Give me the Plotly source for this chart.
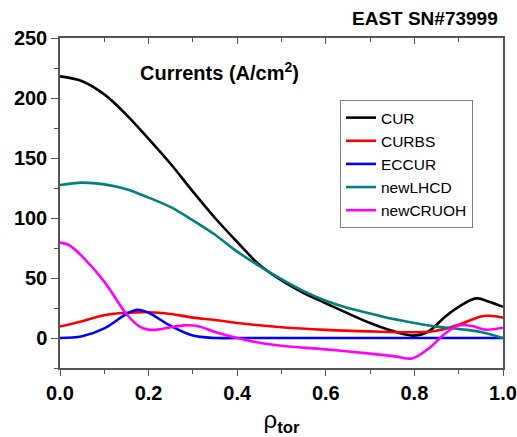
import plotly.graph_objects as go

# Radial profiles of current density components
rho_cur = [0.0, 0.05, 0.1, 0.15, 0.2, 0.25, 0.3, 0.35, 0.4, 0.45, 0.5, 0.55, 0.6, 0.65, 0.7, 0.75, 0.8, 0.83, 0.87, 0.9, 0.94, 0.97, 1.0]
cur = [218, 214, 203, 186, 166, 145, 122, 100, 80, 61, 48, 37.5, 29, 20.5, 12.5, 6, 2, 5, 18, 26, 33, 30, 26]

rho_bs = [0.0, 0.05, 0.1, 0.15, 0.2, 0.25, 0.3, 0.35, 0.4, 0.5, 0.6, 0.7, 0.8, 0.85, 0.9, 0.95, 0.97, 1.0]
curbs = [9.5, 14, 19, 21, 21.5, 20, 17, 15, 12.5, 9, 6.8, 5.5, 4.8, 6, 11, 18, 18.5, 17]

rho_ec = [0.0, 0.05, 0.1, 0.15, 0.175, 0.2, 0.25, 0.3, 0.35, 0.4, 0.6, 0.8, 1.0]
eccur = [0, 1.5, 8, 20, 23.5, 21, 10, 2, 0, 0, 0, 0, 0]

rho_lh = [0.0, 0.05, 0.1, 0.15, 0.2, 0.25, 0.3, 0.35, 0.4, 0.45, 0.5, 0.55, 0.6, 0.65, 0.7, 0.75, 0.8, 0.85, 0.9, 0.95, 1.0]
newlhcd = [127.5, 129.5, 128, 124, 117, 109, 98, 86, 72, 60, 49, 39, 31, 25, 20.5, 16, 12.5, 9.5, 7.5, 5, 0]

rho_oh = [0.0, 0.02, 0.05, 0.1, 0.15, 0.18, 0.2, 0.22, 0.25, 0.28, 0.31, 0.35, 0.4, 0.45, 0.5, 0.6, 0.7, 0.76, 0.795, 0.835, 0.87, 0.9, 0.93, 0.96, 1.0]
newcruoh = [79.5, 77.5, 68, 47, 20, 9.5, 7, 7, 9, 10.5, 10, 5, 0, -4, -6.5, -9.5, -13, -15.5, -17, -8, 4, 10.5, 10, 7, 8.5]

series = [
    ("CUR", rho_cur, cur, "#000000"),
    ("CURBS", rho_bs, curbs, "#ff0000"),
    ("ECCUR", rho_ec, eccur, "#0000ff"),
    ("newLHCD", rho_lh, newlhcd, "#008080"),
    ("newCRUOH", rho_oh, newcruoh, "#ff00ff"),
]

FONT = "Arial, Liberation Sans, sans-serif"

fig = go.Figure()
for name, x, y, color in series:
    fig.add_trace(go.Scatter(
        x=x, y=y, name=name, mode="lines",
        line=dict(color=color, width=2.6, shape="spline", smoothing=1.0),
    ))

# dummy trace to carry the top axis with inward ticks
fig.add_trace(go.Scatter(x=[0, 1], y=[None, None], xaxis="x2", showlegend=False, hoverinfo="skip"))

axis_color = "#555555"
fig.update_layout(
    width=517, height=437,
    margin=dict(l=60, r=14, t=38, b=69, autoexpand=False),
    paper_bgcolor="white", plot_bgcolor="white",
    font=dict(family=FONT, color="black"),
    showlegend=True,
    legend=dict(
        x=0.632, y=0.812, xanchor="left", yanchor="top",
        bgcolor="white", bordercolor="#808080", borderwidth=1,
        font=dict(family=FONT, size=15.5, color="black"),
        tracegroupgap=0, itemwidth=30,
    ),
    xaxis=dict(
        range=[0, 1.0], dtick=0.2, tickformat=".1f", automargin=False,
        showgrid=False, zeroline=False,
        showline=True, linecolor=axis_color, linewidth=1.5,
        ticks="outside", ticklen=6, tickwidth=1, tickcolor=axis_color,
        minor=dict(dtick=0.1, ticks="outside", ticklen=4, tickcolor=axis_color),
        tickfont=dict(family=FONT, size=20, color="black", weight="bold"),
        title=dict(text="ρ<sub><b>tor</b></sub>", font=dict(family=FONT, size=24, color="black"), standoff=10),
    ),
    xaxis2=dict(
        range=[0, 1.0], dtick=0.2, overlaying="x", side="top", automargin=False,
        showgrid=False, zeroline=False, showticklabels=False,
        showline=True, linecolor=axis_color, linewidth=1.5,
        ticks="inside", ticklen=6, tickwidth=1, tickcolor=axis_color,
        minor=dict(dtick=0.1, ticks="inside", ticklen=4, tickcolor=axis_color),
    ),
    yaxis=dict(
        range=[-25, 250], tickvals=[0, 50, 100, 150, 200, 250], automargin=False,
        showgrid=False, zeroline=False,
        showline=True, linecolor=axis_color, linewidth=1.5, mirror=True,
        ticks="outside", ticklen=7, tickwidth=1, tickcolor=axis_color,
        minor=dict(tickvals=[-25, 25, 75, 125, 175, 225], ticks="outside", ticklen=4, tickcolor=axis_color),
        tickfont=dict(family=FONT, size=20, color="black", weight="bold"),
    ),
    annotations=[
        dict(text="Currents (A/cm<sup>2</sup>)", xref="paper", yref="paper",
             x=0.361, y=0.897, xanchor="center", yanchor="middle", showarrow=False,
             font=dict(family=FONT, size=20, color="black", weight="bold")),
        dict(text="EAST SN#73999", xref="paper", yref="paper",
             x=0.993, y=1.06, xanchor="right", yanchor="middle", showarrow=False,
             font=dict(family=FONT, size=19, color="black", weight="bold")),
    ],
)

fig.write_html("out.html")
